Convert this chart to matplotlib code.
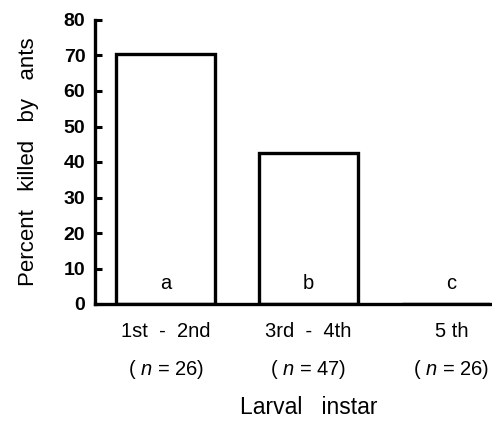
import matplotlib
matplotlib.use("Agg")
import matplotlib.pyplot as plt

# data
categories = ["1st  -  2nd", "3rd  -  4th", "5 th"]
sample_sizes = [26, 47, 26]
percent_killed = [70.5, 42.5, 0]
letters = ["a", "b", "c"]

plt.rcParams['font.family'] = ['Liberation Sans', 'DejaVu Sans']
plt.rcParams['mathtext.fontset'] = 'custom'
plt.rcParams['mathtext.it'] = 'Liberation Sans:italic'

fig = plt.figure(figsize=(4.92, 4.21), dpi=100)
ax = fig.add_axes([95 / 492, 1 - 304 / 421, 395 / 492, 284 / 421])

x = list(range(len(categories)))
ax.bar(x, percent_killed, width=0.69, color='white', edgecolor='black', linewidth=2.4)

for xi, lab in zip(x, letters):
    ax.text(xi, 5.9, lab, ha='center', va='center', fontsize=14.5)

xlim = (-0.495, 2.27)
ax.set_xlim(*xlim)
ax.set_ylim(0, 80)
ax.set_yticks(range(0, 81, 10))
ax.tick_params(axis='y', direction='in', length=5, width=2.2, labelsize=14, pad=7)
for t in ax.get_yticklabels():
    t.set_fontweight('bold')

tick_labels = [f"{c}\n\n( $n$ = {n})" for c, n in zip(categories, sample_sizes)]
ax.set_xticks(x)
ax.set_xticklabels(tick_labels, fontsize=14.5, linespacing=0.95)
ax.tick_params(axis='x', length=0, pad=13)

for side in ['top', 'right']:
    ax.spines[side].set_visible(False)
for side in ['left', 'bottom']:
    ax.spines[side].set_linewidth(2.4)

ax.set_ylabel("Percent   killed   by   ants", fontsize=16, labelpad=18)
ax.set_xlabel("Larval   instar", fontsize=16.5, va='center')
# label sits under the middle category in the original
ax.xaxis.set_label_coords((1 - xlim[0]) / (xlim[1] - xlim[0]), -(407 - 304) / 284)

fig.savefig("out.png", dpi=100)
